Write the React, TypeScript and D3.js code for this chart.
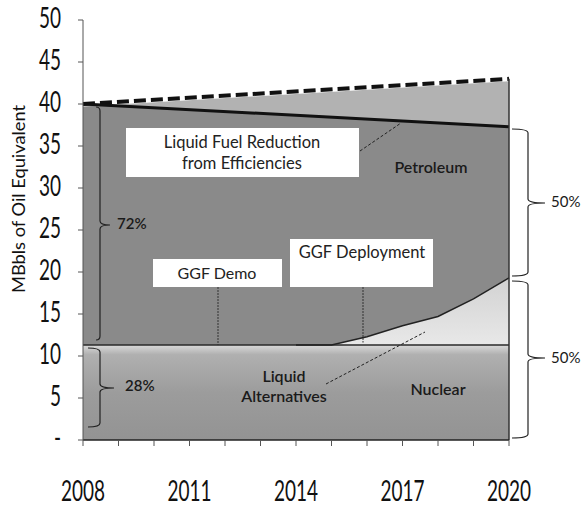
import React from "react";
import * as d3 from "d3";

const years = [2008, 2009, 2010, 2011, 2012, 2013, 2014, 2015, 2016, 2017, 2018, 2019, 2020];
const yTicks = [0, 5, 10, 15, 20, 25, 30, 35, 40, 45, 50];
const xTickLabels = [2008, 2011, 2014, 2017, 2020];
const baselineYears = [2008, 2020];
const baselineDemand = [40, 43];
const reducedDemand = [40, 37.3];
const nuclear = [11.3, 11.3, 11.3, 11.3, 11.3, 11.3, 11.3, 11.3, 11.3, 11.3, 11.3, 11.3, 11.3];
const liquidAltTop = [11.3, 11.3, 11.3, 11.3, 11.3, 11.3, 11.3, 11.3, 12.3, 13.6, 14.7, 16.8, 19.3];

const FONT = "Lato, 'Open Sans', sans-serif";

export default function App() {
  const x = d3.scaleLinear().domain([2008, 2020]).range([83, 509]);
  const y = d3.scaleLinear().domain([0, 50]).range([440, 20]);

  const interp = (ys: number[], vals: number[], yr: number) => d3.scaleLinear().domain(ys).range(vals)(yr);
  const reducedAt = (yr: number) => interp(baselineYears, reducedDemand, yr);
  const baseAt = (yr: number) => interp(baselineYears, baselineDemand, yr);

  const nuclearPath = d3
    .area<number>()
    .x((d) => x(d))
    .y0(() => y(0))
    .y1((_, i) => y(nuclear[i]))(years) as string;

  const liquidPath = d3
    .area<number>()
    .x((d) => x(d))
    .y0((_, i) => y(nuclear[i]))
    .y1((_, i) => y(liquidAltTop[i]))(years) as string;

  const petroPath = d3
    .area<number>()
    .x((d) => x(d))
    .y0((_, i) => y(liquidAltTop[i]))
    .y1((d) => y(reducedAt(d)))(years) as string;

  const reductionPath = d3
    .area<number>()
    .x((d) => x(d))
    .y0((d) => y(reducedAt(d)))
    .y1((d) => y(baseAt(d)))(baselineYears) as string;

  const basePathD = d3.line<number>().x((d) => x(d)).y((d) => y(baseAt(d)))(baselineYears) as string;
  const reducedPathD = d3.line<number>().x((d) => x(d)).y((d) => y(reducedAt(d)))(baselineYears) as string;
  const liquidLineD = d3
    .line<number>()
    .x((d) => x(d))
    .y((_, i) => y(liquidAltTop[i + 6]))(years.slice(6)) as string;

  // curly brace "}" : ends to the left, nub to the right
  const brace = (bx: number, top: number, bot: number, mid: number, endLen: number, nubLen: number) => {
    const r = 4;
    return `M${bx - endLen},${top} Q${bx},${top} ${bx},${top + r} L${bx},${mid - r} Q${bx},${mid} ${bx + nubLen},${mid} M${bx},${mid + r} Q${bx},${mid} ${bx + nubLen},${mid} M${bx},${mid + r} L${bx},${bot - r} Q${bx},${bot} ${bx - endLen},${bot}`;
  };

  return (
    <svg width={582} height={507} style={{ position: "absolute", left: 0, top: 0, background: "#fff" }}>
      <defs>
        <linearGradient id="nucGrad" x1="0" y1="0" x2="0" y2="1">
          <stop offset="0" stopColor="#dadada" />
          <stop offset="0.1" stopColor="#b0b0b0" />
          <stop offset="0.5" stopColor="#9c9c9c" />
          <stop offset="1" stopColor="#939393" />
        </linearGradient>
        <linearGradient id="liqGrad" x1="0" y1="0" x2="0" y2="1">
          <stop offset="0" stopColor="#d2d2d2" />
          <stop offset="1" stopColor="#e8e8e8" />
        </linearGradient>
      </defs>

      {/* areas */}
      <path d={reductionPath} fill="#b2b2b2" />
      <path d={petroPath} fill="#8a8a8a" />
      <path d={liquidPath} fill="url(#liqGrad)" />
      <path d={nuclearPath} fill="url(#nucGrad)" />

      {/* boundaries */}
      <line x1={x(2008)} x2={x(2020)} y1={y(11.3)} y2={y(11.3)} stroke="#2a2a2a" strokeWidth={1.5} />
      <path d={liquidLineD} fill="none" stroke="#222" strokeWidth={1.5} />
      <path d={basePathD} fill="none" stroke="#fff" strokeWidth={5} />
      <path d={basePathD} fill="none" stroke="#111" strokeWidth={4} strokeDasharray="12 5" />
      <path d={reducedPathD} fill="none" stroke="#111" strokeWidth={3} />
      <line x1={x(2020)} x2={x(2020)} y1={y(baseAt(2020))} y2={y(0)} stroke="#333" strokeWidth={1.5} />
      <line x1={x(2008)} x2={x(2020)} y1={y(0)} y2={y(0)} stroke="#222" strokeWidth={1.5} />

      {/* dotted vertical markers */}
      <line x1={218} x2={218} y1={287} y2={y(11.3)} stroke="#333" strokeWidth={1} strokeDasharray="2 1" />
      <line x1={363} x2={363} y1={287} y2={y(11.6)} stroke="#333" strokeWidth={1} strokeDasharray="2 1" />

      {/* y axis */}
      <line x1={83} x2={83} y1={y(50)} y2={y(0)} stroke="#555" strokeWidth={1} />
      {yTicks.map((t) => (
        <g key={t}>
          <line x1={78} x2={83} y1={y(t)} y2={y(t)} stroke="#555" strokeWidth={1} />
          <text
            transform={`translate(61,${y(t) + 7.5}) scale(1,1.55)`}
            textAnchor="end"
            fontFamily={FONT}
            fontSize={19}
            fill="#111"
          >
            {t === 0 ? "-" : String(t)}
          </text>
        </g>
      ))}

      {/* x axis */}
      {years.map((yr) => (
        <line key={yr} x1={x(yr)} x2={x(yr)} y1={y(0)} y2={y(0) + 6} stroke="#555" strokeWidth={1} />
      ))}
      {xTickLabels.map((yr) => (
        <text
          key={yr}
          transform={`translate(${x(yr)},501) scale(1,1.5)`}
          textAnchor="middle"
          fontFamily={FONT}
          fontSize={19}
          fill="#111"
        >
          {yr}
        </text>
      ))}

      <text
        transform="translate(25,199) rotate(-90)"
        textAnchor="middle"
        fontFamily={FONT}
        fontSize={17}
        textLength={188}
        lengthAdjust="spacingAndGlyphs"
        fill="#111"
      >
        MBbls of Oil Equivalent
      </text>

      {/* text boxes */}
      <rect x={126} y={128} width={233} height={49} fill="#fff" />
      <text x={242} y={148} textAnchor="middle" fontFamily={FONT} fontSize={16.5} fill="#222">
        Liquid Fuel Reduction
      </text>
      <text x={242} y={169} textAnchor="middle" fontFamily={FONT} fontSize={16.5} fill="#222">
        from Efficiencies
      </text>
      <line x1={360} y1={151} x2={401} y2={123} stroke="#222" strokeWidth={1} strokeDasharray="3 2" />

      <rect x={153} y={259} width={129} height={28} fill="#fff" />
      <text x={217} y={279} textAnchor="middle" fontFamily={FONT} fontSize={16} fill="#222">
        GGF Demo
      </text>

      <rect x={290} y={239} width={143} height={48} fill="#fff" />
      <text x={362} y={258} textAnchor="middle" fontFamily={FONT} fontSize={16.5} fill="#222">
        GGF Deployment
      </text>

      <text x={431} y={173} textAnchor="middle" fontFamily={FONT} fontSize={16} fontWeight={600} fill="#1a1a1a">
        Petroleum
      </text>
      <text x={438} y={395} textAnchor="middle" fontFamily={FONT} fontSize={16} fontWeight={600} fill="#1a1a1a">
        Nuclear
      </text>
      <text x={284} y={382} textAnchor="middle" fontFamily={FONT} fontSize={16} fontWeight={600} fill="#1a1a1a">
        Liquid
      </text>
      <text x={284} y={402} textAnchor="middle" fontFamily={FONT} fontSize={16} fontWeight={600} fill="#1a1a1a">
        Alternatives
      </text>
      <line x1={326} y1={384} x2={425} y2={332} stroke="#222" strokeWidth={1} strokeDasharray="3 2" />

      {/* braces */}
      <path d={brace(100, 107, 340, 225, 4, 10)} fill="none" stroke="#222" strokeWidth={1.2} />
      <text x={117} y={229} fontFamily={FONT} fontSize={15} fontWeight={600} fill="#1a1a1a">
        72%
      </text>
      <path d={brace(100, 348, 427, 388, 12, 14)} fill="none" stroke="#222" strokeWidth={1.2} />
      <text x={125} y={391} fontFamily={FONT} fontSize={15} fontWeight={600} fill="#1a1a1a">
        28%
      </text>

      <path d={brace(528, 129, 276, 203, 16, 17)} fill="none" stroke="#222" strokeWidth={1.2} />
      <text x={551} y={207} fontFamily={FONT} fontSize={15} fill="#1a1a1a">
        50%
      </text>
      <path d={brace(528, 281, 438, 358, 16, 17)} fill="none" stroke="#222" strokeWidth={1.2} />
      <text x={551} y={363} fontFamily={FONT} fontSize={15} fill="#1a1a1a">
        50%
      </text>
    </svg>
  );
}
